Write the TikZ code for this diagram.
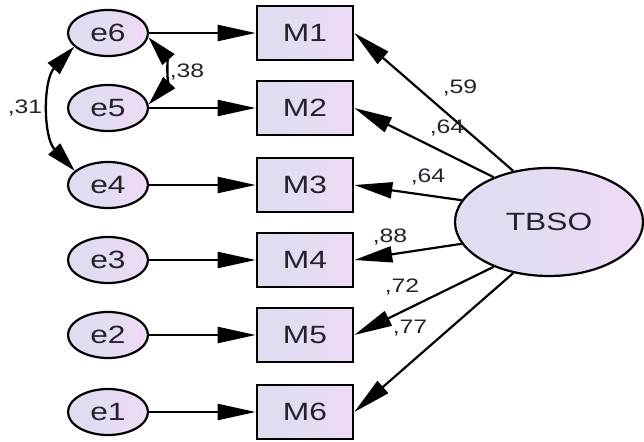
\documentclass[tikz,border=0pt]{standalone}
\usepackage{fontspec}
\setmainfont{Liberation Sans}[FakeStretch=1.27]
\usetikzlibrary{arrows.meta,shapes.geometric}
\definecolor{fillL}{RGB}{220,222,240}
\definecolor{fillR}{RGB}{238,218,244}
\definecolor{txt}{RGB}{35,35,45}
\tikzset{
  errnode/.style={ellipse,draw=black,line width=2.2pt,left color=fillL,right color=fillR,
    minimum width=80pt,minimum height=46pt,inner sep=0pt,font=\fontsize{25}{25}\selectfont,text=txt},
  obsnode/.style={rectangle,draw=black,line width=2.6pt,left color=fillL,right color=fillR,
    minimum width=96pt,minimum height=54pt,inner sep=0pt,font=\fontsize{25}{25}\selectfont,text=txt},
  latnode/.style={ellipse,draw=black,line width=2.2pt,left color=fillL,right color=fillR,
    minimum width=188pt,minimum height=108pt,inner sep=0pt,font=\fontsize{25}{25}\selectfont,text=txt},
  arr/.style={line width=2.2pt,-{Triangle[length=38pt,width=16pt]}},
  dblarr/.style={line width=2.3pt,{Triangle[length=30pt,width=16pt]}-{Triangle[length=30pt,width=16pt]}},
  lbl/.style={font=\fontsize{19.5}{19.5}\selectfont,text=txt,inner sep=0pt}
}
\begin{document}
\begin{tikzpicture}[x=1pt,y=-1pt]
\useasboundingbox (0,0) rectangle (644,441);
\foreach \i/\y in {6/33,5/108,4/185,3/260,2/335,1/412}{
  \node[errnode] (e\i) at (108,\y) {e\i};
}
\foreach \i/\y in {1/33,2/108,3/185,4/260,5/335,6/412}{
  \node[obsnode] (M\i) at (305,\y) {M\i};
}
\node[latnode] (T) at (549,222) {TBSO};
\draw[arr] (e6) -- (M1);
\draw[arr] (e5) -- (M2);
\draw[arr] (e4) -- (M3);
\draw[arr] (e3) -- (M4);
\draw[arr] (e2) -- (M5);
\draw[arr] (e1) -- (M6);
\draw[arr] (T.125) -- (M1.east);
\draw[arr] (T.141) -- (M2.east);
\draw[arr] (T.166) -- (M3.east);
\draw[arr] (T.194) -- (M4.east);
\draw[arr] (T.219) -- (M5.east);
\draw[arr] (T.235) -- (M6.east);
\coordinate (c1) at (43,80);
\coordinate (c2) at (43,137);
\coordinate (c3) at (167,58);
\coordinate (c4) at (167,85);
\draw[dblarr] (e6.202) .. controls (c1) and (c2) .. (e4.157);
\draw[dblarr] (e6.-6) .. controls (c3) and (c4) .. (e5.5);
\node[lbl] (l59) at (460,88) {,59};
\node[lbl] (l64a) at (447,128) {,64};
\node[lbl] (l64b) at (428,177) {,64};
\node[lbl] (l88) at (390,237) {,88};
\node[lbl] (l72) at (402,287) {,72};
\node[lbl] (l77) at (410,328) {,77};
\node[lbl] (l38) at (187,72) {,38};
\node[lbl] (l31) at (25,108) {,31};
\end{tikzpicture}
\end{document}
